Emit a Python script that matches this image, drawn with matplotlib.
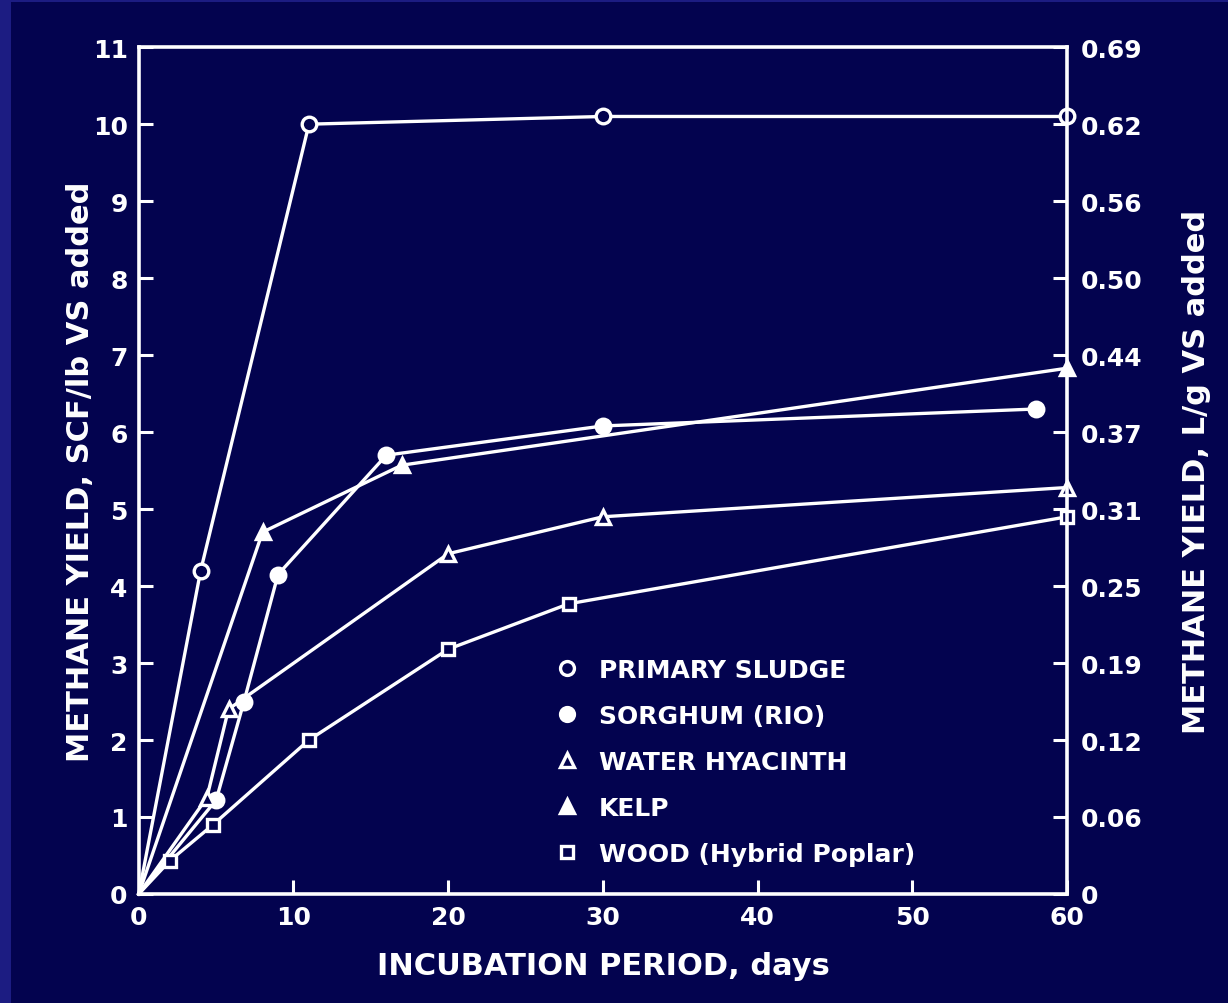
import matplotlib
matplotlib.use('Agg')
import matplotlib.pyplot as plt
from matplotlib.lines import Line2D
from matplotlib.patches import Rectangle

# data (days, SCF/lb VS added)
sludge_x = [0, 4, 11, 30, 60]
sludge_y = [0, 4.2, 10.0, 10.1, 10.1]

sorghum_x = [0, 5, 6.8, 9, 16, 30, 58]
sorghum_y = [0, 1.22, 2.5, 4.15, 5.7, 6.08, 6.3]

hyacinth_x = [0, 4.4, 5.8, 20, 30, 60]
hyacinth_y = [0, 1.25, 2.4, 4.42, 4.9, 5.28]

kelp_x = [0, 8, 17, 60]
kelp_y = [0, 4.7, 5.57, 6.83]

wood_x = [0, 2, 4.8, 11, 20, 27.8, 60]
wood_y = [0, 0.43, 0.9, 2.0, 3.18, 3.77, 4.9]

left_ticks = list(range(0, 12))
right_labels = ['0', '0.06', '0.12', '0.19', '0.25', '0.31', '0.37', '0.44',
                '0.50', '0.56', '0.62', '0.69']
x_ticks = [0, 10, 20, 30, 40, 50, 60]

bg = '#03034f'
border = '#1c1c82'
fg = 'white'

plt.rcParams['font.family'] = 'DejaVu Sans'
plt.rcParams['font.weight'] = 'bold'

fig = plt.figure(figsize=(12.28, 10.04), dpi=100, facecolor=border)
# dark inner panel of the slide
fig.patches.append(Rectangle((11 / 1228, 0), 1, 1 - 3 / 1004, transform=fig.transFigure,
                             facecolor=bg, edgecolor='none', zorder=-5))

ax = fig.add_axes([0.113, 0.1086, 0.756, 0.8434])
ax.set_facecolor(bg)

lw = 2.4
ms = 10.5
mew = 2.4
# no marker at the origin, lines just meet there
ax.plot(sludge_x, sludge_y, color=fg, lw=lw, marker='o', ms=ms, mfc=bg, mec=fg, mew=mew,
        markevery=list(range(1, len(sludge_x))), clip_on=False)
ax.plot(sorghum_x, sorghum_y, color=fg, lw=lw, marker='o', ms=ms, mfc=fg, mec=fg, mew=mew,
        markevery=list(range(1, len(sorghum_x))), clip_on=False)
ax.plot(hyacinth_x, hyacinth_y, color=fg, lw=lw, marker='^', ms=ms, mfc=bg, mec=fg, mew=mew,
        markevery=list(range(1, len(hyacinth_x))), clip_on=False)
ax.plot(kelp_x, kelp_y, color=fg, lw=lw, marker='^', ms=ms, mfc=fg, mec=fg, mew=mew,
        markevery=list(range(1, len(kelp_x))), clip_on=False)
ax.plot(wood_x, wood_y, color=fg, lw=lw, marker='s', ms=ms - 1.5, mfc=bg, mec=fg, mew=mew,
        markevery=list(range(1, len(wood_x))), clip_on=False)

ax.set_xlim(0, 60)
ax.set_ylim(0, 11)
for s in ax.spines.values():
    s.set_color(fg)
    s.set_linewidth(2.6)

ax.set_xticks(x_ticks)
ax.set_yticks(left_ticks)
ax.tick_params(colors=fg, direction='in', length=10, width=2.2, labelsize=18, pad=8)
for lab in ax.get_xticklabels() + ax.get_yticklabels():
    lab.set_fontweight('bold')

ax.set_xlabel('INCUBATION PERIOD, days', color=fg, fontsize=22, fontweight='bold', labelpad=16)
ax.set_ylabel('METHANE YIELD, SCF/lb VS added', color=fg, fontsize=22, fontweight='bold', labelpad=-2)

# right axis in L/g VS added
ax2 = ax.twinx()
ax2.set_ylim(0, 11)
ax2.set_yticks(left_ticks)
ax2.set_yticklabels(right_labels)
ax2.tick_params(colors=fg, direction='in', length=10, width=2.2, labelsize=18, pad=10)
for lab in ax2.get_yticklabels():
    lab.set_fontweight('bold')
for s in ax2.spines.values():
    s.set_visible(False)
ax2.set_ylabel('METHANE YIELD, L/g VS added', color=fg, fontsize=22, fontweight='bold',
               rotation=90, labelpad=28)

handles = [
    Line2D([], [], ls='none', marker='o', ms=10, mfc=bg, mec=fg, mew=2.4),
    Line2D([], [], ls='none', marker='o', ms=10, mfc=fg, mec=fg, mew=2.4),
    Line2D([], [], ls='none', marker='^', ms=10, mfc=bg, mec=fg, mew=2.4),
    Line2D([], [], ls='none', marker='^', ms=10, mfc=fg, mec=fg, mew=2.4),
    Line2D([], [], ls='none', marker='s', ms=9, mfc=bg, mec=fg, mew=2.4),
]
names = ['PRIMARY SLUDGE', 'SORGHUM (RIO)', 'WATER HYACINTH', 'KELP', 'WOOD (Hybrid Poplar)']
leg = ax.legend(handles, names, loc='upper left', bbox_to_anchor=(0.424, 0.305), frameon=False,
                handlelength=1.0, handletextpad=0.75, labelspacing=0.88,
                prop={'size': 18, 'weight': 'bold'})
for t in leg.get_texts():
    t.set_color(fg)

fig.savefig('out.png', dpi=100, facecolor=fig.get_facecolor())
